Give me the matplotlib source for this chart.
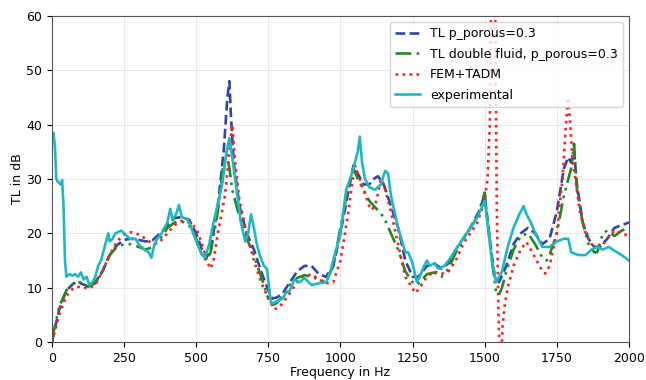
import matplotlib
matplotlib.use("Agg")
from matplotlib import pyplot as plt
import numpy as np

# TL p_porous=0.3
f_blue = [0, 25, 50, 75, 100, 125, 150, 175, 200, 225, 250, 275, 300, 325, 350, 375, 400, 425, 450, 475,
          500, 520, 535, 550, 575, 595, 608, 615, 620, 630, 650, 675, 700, 725, 750, 765, 780, 800, 825, 850,
          875, 900, 925, 950, 975, 1000, 1025, 1045, 1060, 1080, 1100, 1115, 1130, 1150, 1175, 1200, 1225, 1250,
          1270, 1300, 1325, 1350, 1375, 1400, 1450, 1480, 1500, 1520, 1535, 1550, 1575, 1600, 1625, 1650, 1675,
          1700, 1725, 1750, 1775, 1790, 1800, 1810, 1820, 1840, 1860, 1880, 1900, 1925, 1950, 1975, 2000]
v_blue = [0, 6, 9.5, 10.8, 10.8, 10.2, 11, 13, 16, 17.8, 18.8, 19, 18.8, 18.5, 18.8, 20, 21.5, 22.8, 23, 22.5,
          20, 17, 15.5, 17, 25, 35, 45, 48, 42, 33, 25, 20, 17, 13, 9.5, 8, 8.2, 9, 11, 13,
          14, 14, 12.5, 12, 14, 20, 27, 32.5, 31, 29, 29, 30, 30.5, 29, 25, 21, 15, 12,
          12, 14, 14.5, 13.5, 14.5, 17, 21, 24, 27, 18, 12, 11, 14, 18, 20, 21, 20,
          18, 19, 24, 32, 34, 33, 35, 29, 22, 19, 17.5, 17.5, 19, 21, 21.5, 22]

# TL double fluid, p_porous=0.3
f_green = [0, 25, 50, 75, 100, 125, 150, 175, 200, 225, 250, 275, 300, 325, 350, 375, 400, 425, 450, 475,
           500, 520, 535, 550, 575, 595, 605, 615, 625, 650, 675, 700, 725, 750, 765, 780, 800, 825, 850, 875,
           900, 925, 950, 975, 1000, 1025, 1045, 1060, 1080, 1100, 1125, 1150, 1175, 1200, 1225, 1250, 1265,
           1275, 1300, 1325, 1350, 1375, 1400, 1450, 1475, 1500, 1510, 1525, 1540, 1550, 1560, 1575, 1600,
           1625, 1650, 1675, 1700, 1715, 1725, 1750, 1775, 1800, 1810, 1820, 1840, 1860, 1880, 1890, 1910,
           1925, 1950, 1975, 2000]
v_green = [0.5, 6.5, 9.5, 10.8, 11, 10.2, 10.8, 13, 16, 17.5, 18, 18, 17.5, 17, 17.5, 19, 21, 22, 22.2, 21.5,
           19, 16, 15, 16.5, 24, 33, 34.5, 32, 28, 23, 19, 16, 12, 8, 6.8, 7.2, 8.5, 10.5, 11.8, 12.3,
           12, 11.5, 11, 14, 21, 28, 32, 30, 28, 26, 24.5, 23, 20, 17, 13, 11, 10.5,
           11, 12.5, 12.8, 12, 13.5, 16.5, 21, 23, 27.5, 22, 15, 9, 8.7, 10, 13, 17,
           19.5, 20, 18, 15.5, 15, 16, 20, 27, 32, 36.5, 28, 22, 18, 16.5, 16.5, 20,
           20.5, 19.5, 20.5, 21]

# FEM+TADM
f_red = [0, 25, 50, 75, 100, 125, 150, 175, 200, 225, 250, 275, 300, 325, 350, 375, 400, 425, 450, 475,
         500, 520, 540, 550, 560, 575, 600, 615, 625, 635, 650, 675, 700, 725, 750, 770, 790, 825, 850, 875,
         900, 925, 950, 975, 1000, 1025, 1040, 1050, 1060, 1080, 1100, 1110, 1125, 1140, 1150, 1175, 1200,
         1225, 1260, 1275, 1300, 1325, 1350, 1375, 1400, 1425, 1450, 1475, 1500, 1510, 1518, 1523, 1527,
         1532, 1537, 1542, 1548, 1552, 1558, 1562, 1570, 1580, 1600, 1625, 1645, 1660, 1700, 1710, 1725,
         1750, 1770, 1782, 1789, 1797, 1805, 1815, 1830, 1850, 1870, 1890, 1910, 1925, 1950, 1975, 2000]
v_red = [0, 5, 8.5, 10, 10.2, 9.8, 10.5, 13, 16, 18.5, 19.8, 20.2, 19.8, 19, 18, 18.5, 20, 21.5, 22.3, 22,
         21, 18, 14.5, 13.5, 15, 20, 27, 35, 40, 33, 26, 20, 15, 11, 8, 6, 6.5, 9, 11, 12,
         12.5, 11.5, 10.8, 11, 15, 23, 29, 32.5, 31, 28, 25, 24.3, 26, 30, 29, 24, 18,
         12, 9, 10, 12, 13, 12.5, 13, 15, 18, 20, 22, 26, 30, 40, 70, 110,
         110, 60, 25, 5, -3, -3, 3, 7, 10, 14, 17, 18.4, 17, 13, 12.6, 14,
         20, 30, 40, 45, 40, 33, 30, 24, 20, 18, 17.5, 18, 19, 20.5, 20, 19.5]

# experimental
f_exp = [0, 5, 10, 15, 20, 30, 35, 40, 45, 50, 60, 70, 80, 90, 100, 110, 120, 130, 140, 150, 160, 170, 180,
         190, 195, 200, 210, 220, 240, 250, 270, 290, 300, 320, 335, 345, 355, 365, 380, 400, 410, 418, 430,
         440, 450, 470, 480, 500, 520, 530, 545, 560, 575, 590, 605, 615, 625, 640, 655, 670, 680, 690, 700,
         710, 720, 735, 745, 755, 760, 780, 800, 810, 825, 840, 860, 875, 890, 900, 925, 950, 965, 980, 1000,
         1020, 1040, 1050, 1060, 1067, 1075, 1085, 1100, 1120, 1140, 1155, 1165, 1175, 1200, 1225, 1235, 1250,
         1265, 1275, 1290, 1300, 1310, 1325, 1340, 1360, 1375, 1400, 1425, 1450, 1475, 1500, 1510, 1525, 1540,
         1560, 1580, 1600, 1620, 1635, 1645, 1660, 1680, 1700, 1725, 1750, 1775, 1790, 1800, 1825, 1850, 1870,
         1890, 1910, 1930, 1950, 1975, 2000]
v_exp = [38, 38.5, 36, 30, 29.5, 29, 29.8, 25, 15, 12, 12.5, 12.2, 12.5, 12, 12.8, 11.5, 12, 10.5, 11, 12, 14, 15, 17,
         19, 20, 18.5, 19, 20, 20.5, 20, 19, 19, 18, 17, 16.5, 15.5, 18, 19, 20, 22, 24.5, 22.5, 23.5,
         25.2, 23, 22.5, 21.5, 18.5, 16, 15.5, 18, 22, 25.5, 29, 35, 37.5, 34, 28, 22, 18.5, 20, 23.5, 21,
         18, 16, 14, 13.5, 9, 7, 7.5, 8, 9, 9.5, 11.5, 11, 11.8, 11, 10.5, 10.8, 11, 13, 16, 20,
         28, 31, 33, 35, 37.8, 33, 30, 28.5, 28, 29, 31.5, 31, 27, 21, 16.5, 16.5, 14.5,
         11, 12, 14, 15, 14, 14.5, 13.5, 14, 15, 17, 19, 21, 23, 26, 22, 15, 11,
         13, 17.5, 21, 23.5, 25, 23.5, 22, 19.5, 17.5, 17.5, 18.5, 19, 19, 16.5, 16, 16, 17,
         17.5, 17, 17.5, 16.8, 16, 15]

plt.rcParams["font.size"] = 9

fig = plt.figure(figsize=(6.46, 3.8), dpi=100)
ax = fig.add_axes([0.0805, 0.1, 0.893, 0.858])

ax.plot(f_blue, v_blue, "--", color="#3444a6", lw=1.9, label="TL p_porous=0.3")
ax.plot(f_green, v_green, color="#1e8c1e", lw=1.9, dashes=[6, 2, 1, 2, 1, 2],
        label="TL double fluid, p_porous=0.3")
ax.plot(f_red, v_red, ":", color="#ff2020", lw=1.9, label="FEM+TADM")
ax.plot(f_exp, v_exp, "-", color="#1fb8c0", lw=1.9, label="experimental")

ax.set_xlim(0, 2000)
ax.set_ylim(0, 60)
ax.set_xticks([0, 250, 500, 750, 1000, 1250, 1500, 1750, 2000])
ax.set_yticks([0, 10, 20, 30, 40, 50, 60])
ax.grid(True, color="#e4e4e4", lw=0.6)
ax.set_xlabel("Frequency in Hz", labelpad=1)
ax.set_ylabel("TL in dB", labelpad=2)
for s in ax.spines.values():
    s.set_color("#555555")
ax.legend(loc="upper right", fontsize=9, labelspacing=0.6)

fig.savefig("out.png", dpi=100)
